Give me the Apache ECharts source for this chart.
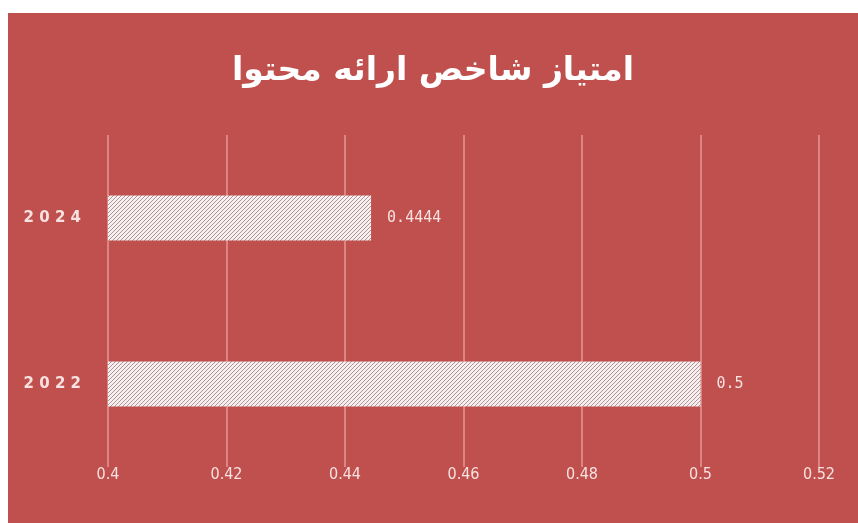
<!DOCTYPE html>
<html>
<head>
<meta charset="utf-8">
<script src="https://cdn.jsdelivr.net/npm/echarts@6/dist/echarts.min.js"></script>
<style>
  html, body { margin: 0; padding: 0; background: #ffffff; }
  #chart { position: absolute; left: 8px; top: 13px; width: 850px; height: 510px; }
</style>
</head>
<body>
<div id="chart"></div>
<script>
// Content presentation index score by year
const titleText = 'امتیاز شاخص ارائه محتوا';
const years = ['2022', '2024'];
const scores = [0.5, 0.4444];
const xTicks = [0.4, 0.42, 0.44, 0.46, 0.48, 0.5, 0.52];

// Diagonal hatch fill for the bars
function hatchPattern() {
  const s = 4;
  const c = document.createElement('canvas');
  c.width = s; c.height = s;
  const ctx = c.getContext('2d');
  ctx.fillStyle = '#fbeeee';
  ctx.fillRect(0, 0, s, s);
  ctx.strokeStyle = '#a8979a';
  ctx.lineWidth = 1;
  ctx.beginPath();
  ctx.moveTo(-1, s + 1); ctx.lineTo(s + 1, -1);
  ctx.moveTo(-1 - s, s + 1 - s); ctx.lineTo(s + 1 - s, -1 - s);
  ctx.moveTo(-1 + s, s + 1 + s); ctx.lineTo(s + 1 + s, -1 + s);
  ctx.stroke();
  return c;
}

const chart = echarts.init(document.getElementById('chart'), null, { renderer: 'canvas' });
chart.setOption({
  backgroundColor: '#c0504d',
  animation: false,
  title: {
    text: titleText,
    left: 'center',
    top: 37,
    textStyle: { color: '#ffffff', fontSize: 33, fontWeight: 'bold', fontFamily: 'DejaVu Sans' }
  },
  grid: { left: 100, right: 39, top: 122, bottom: 56 },
  xAxis: {
    type: 'value',
    min: xTicks[0],
    max: xTicks[xTicks.length - 1],
    interval: 0.02,
    axisLine: { show: false },
    axisTick: { show: false },
    splitLine: { show: true, lineStyle: { color: '#e49896', width: 1.5 } },
    axisLabel: {
      color: '#f8e2e1', fontSize: 16, fontFamily: 'DejaVu Sans Condensed', margin: 0,
      formatter: v => String(Math.round(v * 100) / 100)
    }
  },
  yAxis: {
    type: 'category',
    data: years,
    axisLine: { show: false },
    axisTick: { show: false },
    axisLabel: {
      color: '#f8e2e1', fontSize: 15, fontWeight: 'bold', fontFamily: 'DejaVu Sans', margin: 27,
      formatter: v => v.split('').join(' ')
    }
  },
  series: [{
    type: 'bar',
    data: scores,
    barWidth: 45,
    itemStyle: { color: { image: hatchPattern(), repeat: 'repeat' } },
    label: {
      show: true,
      position: 'right',
      distance: 16,
      color: '#f8e2e1',
      fontSize: 15,
      fontFamily: 'DejaVu Sans Mono',
      formatter: p => String(p.value)
    }
  }]
});
</script>
</body>
</html>
